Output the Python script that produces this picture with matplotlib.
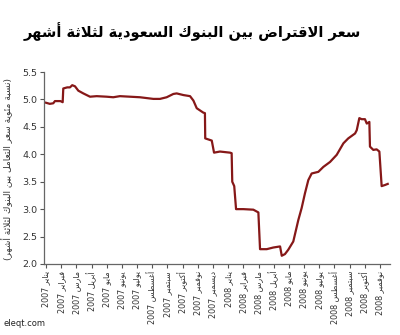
#!/usr/bin/env python3
"""Saudi three-month interbank rate, Jan 2007 - Nov 2008."""

import matplotlib

matplotlib.use("Agg")
import matplotlib.pyplot as plt
from matplotlib.ticker import FormatStrFormatter


TITLE = "سعر الاقتراض بين البنوك السعودية لثلاثة أشهر"
Y_LABEL = "نسبة مئوية سعر التعامل بين البنوك لثلاثة أشهر"
MONTHS = ["يناير", "فبراير", "مارس", "أبريل", "مايو", "يونيو",
          "يوليو", "أغسطس", "سبتمبر", "أكتوبر", "نوفمبر", "ديسمبر"]
YEARS = ["2007"] * 12 + ["2008"] * 11
Y_TICKS = [2.0, 2.5, 3.0, 3.5, 4.0, 4.5, 5.0, 5.5]

# months since Jan 2007
t = [0.00, 0.25, 0.48, 0.59, 0.95, 1.10, 1.14, 1.40, 1.58, 1.73, 1.91, 2.13,
     2.46, 2.90, 3.34, 4.00, 4.43, 4.87, 5.53, 6.19, 7.07, 7.51, 7.95, 8.39,
     8.61, 9.05, 9.49, 9.71, 9.93, 10.36, 10.47, 10.49, 10.92, 11.07, 11.46,
     12.12, 12.23, 12.27, 12.40, 12.52, 13.00, 13.66, 13.99, 14.10, 14.54,
     14.97, 15.42, 15.53, 15.74, 15.96, 16.29, 16.62, 16.84, 17.06, 17.28,
     17.50, 17.94, 18.27, 18.71, 19.15, 19.59, 19.91, 20.36, 20.47, 20.64,
     20.79, 21.01, 21.13, 21.30, 21.34, 21.56, 21.78, 21.96, 22.11, 22.33, 22.51]
rate = [4.94, 4.92, 4.93, 4.97, 4.97, 4.95, 5.20, 5.22, 5.22, 5.26, 5.24, 5.16,
        5.11, 5.05, 5.06, 5.05, 5.04, 5.06, 5.05, 5.04, 5.01, 5.01, 5.04, 5.10,
        5.11, 5.08, 5.06, 4.98, 4.84, 4.76, 4.75, 4.29, 4.25, 4.03, 4.05,
        4.03, 4.02, 3.50, 3.42, 3.00, 3.00, 2.99, 2.94, 2.27, 2.27,
        2.30, 2.32, 2.15, 2.18, 2.26, 2.41, 2.80, 3.02, 3.29, 3.53,
        3.65, 3.68, 3.77, 3.86, 3.99, 4.20, 4.29, 4.38, 4.44, 4.66,
        4.64, 4.64, 4.56, 4.59, 4.14, 4.08, 4.09, 4.05, 3.42, 3.44, 3.46]


# Arabic presentation forms (isolated code; dual letters have 4 forms, right-joining 2)
DUAL = {"ب": 0xFE8F, "ت": 0xFE95, "ث": 0xFE99, "ج": 0xFE9D, "ح": 0xFEA1, "خ": 0xFEA5,
        "س": 0xFEB1, "ش": 0xFEB5, "ص": 0xFEB9, "ض": 0xFEBD, "ط": 0xFEC1, "ظ": 0xFEC5,
        "ع": 0xFEC9, "غ": 0xFECD, "ف": 0xFED1, "ق": 0xFED5, "ك": 0xFED9, "ل": 0xFEDD,
        "م": 0xFEE1, "ن": 0xFEE5, "ه": 0xFEE9, "ي": 0xFEF1, "ئ": 0xFE89}
RIGHT = {"آ": 0xFE81, "أ": 0xFE83, "ؤ": 0xFE85, "إ": 0xFE87, "ا": 0xFE8D, "ة": 0xFE93,
         "د": 0xFEA9, "ذ": 0xFEAB, "ر": 0xFEAD, "ز": 0xFEAF, "و": 0xFEED, "ى": 0xFEEF}
LAM_ALEF = {"آ": 0xFEF5, "أ": 0xFEF7, "إ": 0xFEF9, "ا": 0xFEFB}


def shape(text: str) -> str:
    """Join Arabic letters and return the string in visual (left-to-right) order."""
    items = []
    i = 0
    while i < len(text):
        if text[i] == "ل" and i + 1 < len(text) and text[i + 1] in LAM_ALEF:
            items.append(("LA", text[i + 1]))
            i += 2
        else:
            items.append((text[i], None))
            i += 1
    out = []
    for k, (c, alef) in enumerate(items):
        joins_prev = k > 0 and items[k - 1][0] in DUAL
        nxt = items[k + 1][0] if k + 1 < len(items) else None
        joins_next = nxt in DUAL or nxt in RIGHT or nxt == "LA"
        if c == "LA":
            code = LAM_ALEF[alef] + (1 if joins_prev else 0)
        elif c in DUAL:
            form = {(False, False): 0, (True, False): 1, (False, True): 2, (True, True): 3}
            code = DUAL[c] + form[(joins_prev, joins_next)]
        elif c in RIGHT:
            code = RIGHT[c] + (1 if joins_prev else 0)
        else:
            code = ord(c)
        out.append(chr(code))
    return "".join(reversed(out))


def main() -> None:
    fig = plt.figure(figsize=(4.0, 3.35), dpi=100)
    ax = fig.add_axes([0.11, 0.212, 0.865, 0.573])

    ax.plot(t, rate, color="#861818", lw=1.6, solid_joinstyle="round")

    ax.set_ylim(2.0, 5.5)
    ax.set_xlim(-0.13, 22.66)
    ax.set_yticks(Y_TICKS)
    ax.yaxis.set_major_formatter(FormatStrFormatter("%.1f"))
    labels = [f"{YEARS[i]} {shape(MONTHS[i % 12])}" for i in range(len(YEARS))]
    ax.set_xticks(range(len(YEARS)))
    ax.set_xticklabels(labels, rotation=90, fontsize=5.8)
    ax.tick_params(axis="y", labelsize=6.8, length=3, width=0.8, colors="#555555", pad=2)
    ax.tick_params(axis="x", length=3, width=0.8, colors="#555555", pad=2)
    for label in ax.get_xticklabels() + ax.get_yticklabels():
        label.set_color("#333333")
    for side in ("top", "right"):
        ax.spines[side].set_visible(False)
    for side in ("left", "bottom"):
        ax.spines[side].set_color("#666666")
        ax.spines[side].set_linewidth(0.9)

    fig.text(0.017, 0.495, "(" + shape(Y_LABEL) + ")", rotation=90, fontsize=6.6,
             ha="center", va="center", color="#333333")
    fig.text(0.48, 0.905, shape(TITLE), fontsize=10.5, fontweight="bold",
             ha="center", va="center")
    fig.text(0.01, 0.02, "eleqt.com", fontsize=6, color="#222222", ha="left", va="bottom")

    fig.savefig("out.png", dpi=100, facecolor="white")
    plt.close(fig)


if __name__ == "__main__":
    main()
